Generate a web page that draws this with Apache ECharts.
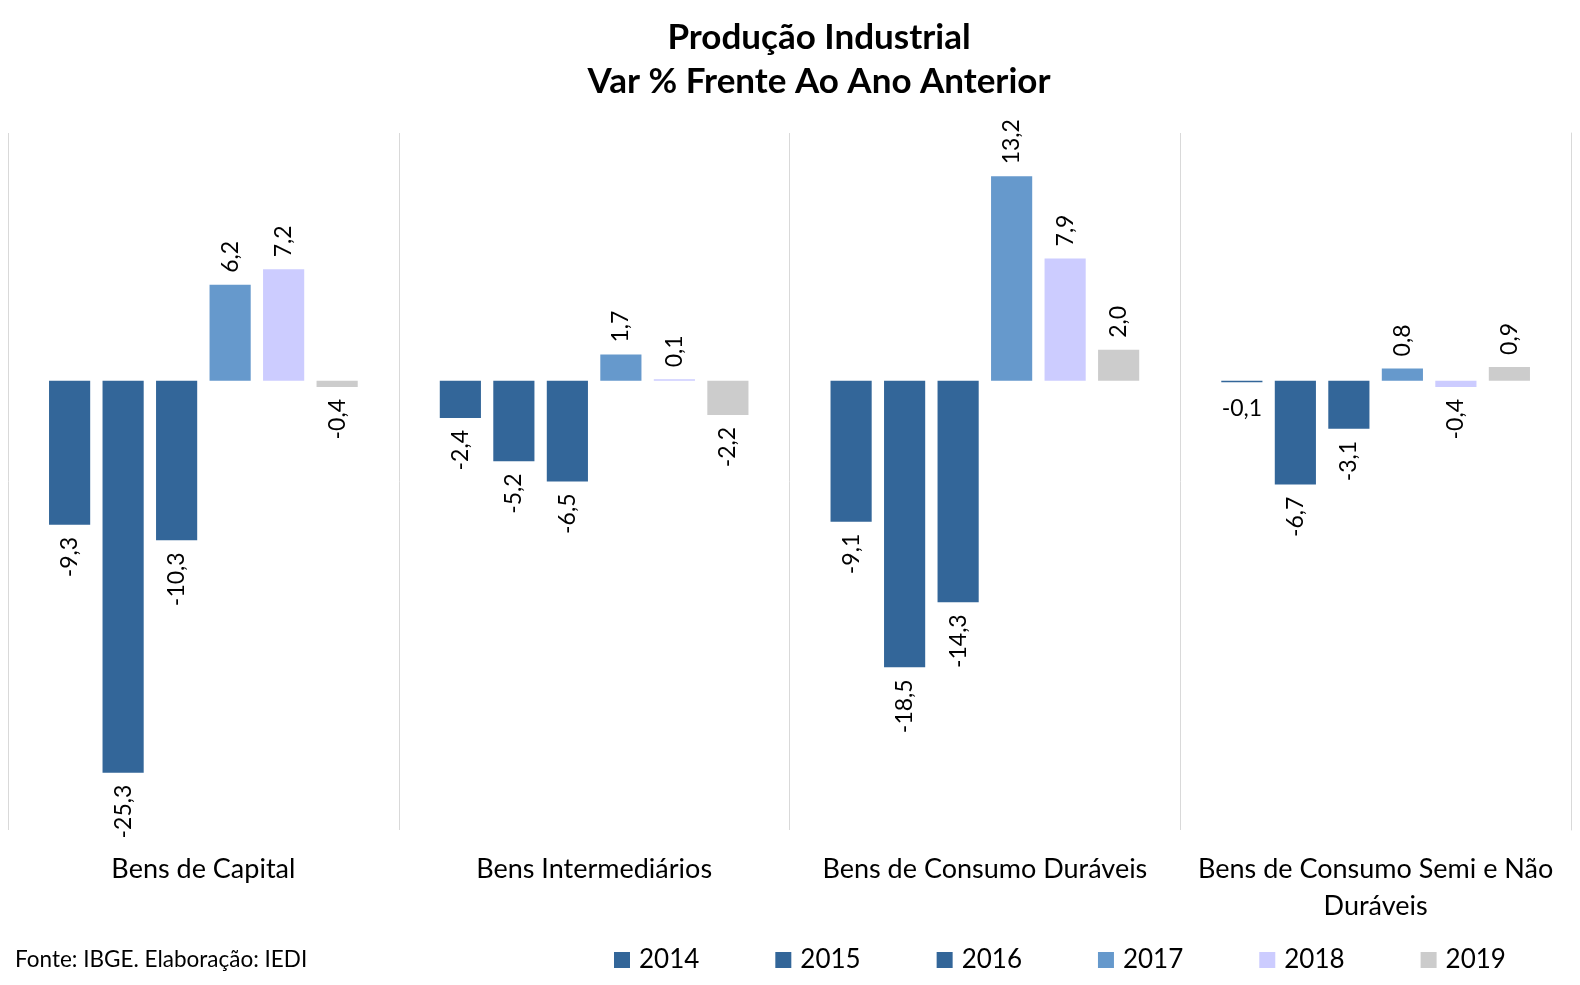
<!DOCTYPE html>
<html><head><meta charset="utf-8">
<script src="https://cdn.jsdelivr.net/npm/echarts@6/dist/echarts.min.js"></script>
<style>html,body{margin:0;padding:0;background:#fff}#c{width:1580px;height:985px}</style>
</head><body><div id="c"></div>
<script>
const categories = ['Bens de Capital', 'Bens Intermediários', 'Bens de Consumo Duráveis', 'Bens de Consumo Semi e Não\nDuráveis'];
const years = ['2014', '2015', '2016', '2017', '2018', '2019'];
const v2014 = [-9.3, -2.4, -9.1, -0.1];
const v2015 = [-25.3, -5.2, -18.5, -6.7];
const v2016 = [-10.3, -6.5, -14.3, -3.1];
const v2017 = [6.2, 1.7, 13.2, 0.8];
const v2018 = [7.2, 0.1, 7.9, -0.4];
const v2019 = [-0.4, -2.2, 2.0, 0.9];
const seriesValues = [v2014, v2015, v2016, v2017, v2018, v2019];
const colors = ['#336699', '#336699', '#336699', '#6699CC', '#CCCCFF', '#CCCCCC'];
const titleLines = ['Produção Industrial', 'Var % Frente Ao Ano Anterior'];
const sourceText = 'Fonte: IBGE. Elaboração: IEDI';
// labels drawn horizontally in the original: [seriesIndex, categoryIndex]
const horizontalLabels = [[0, 3]];

const FONT = 'Lato';
function fmt(v) { return v.toFixed(1).replace('.', ','); }
function isHorizontal(s, c) { return horizontalLabels.some(p => p[0] === s && p[1] === c); }
function makeItem(v, s, c) {
  let label;
  if (isHorizontal(s, c)) {
    label = { position: 'bottom', rotate: 0, align: 'center', verticalAlign: 'top', distance: 15 };
  } else if (v >= 0) {
    label = { position: 'top', rotate: 90, align: 'left', verticalAlign: 'middle', distance: 12 };
  } else {
    label = { position: 'bottom', rotate: 90, align: 'right', verticalAlign: 'middle', distance: 12 };
  }
  return { value: v, label: label };
}

const chart = echarts.init(document.getElementById('c'));
const series = years.map((y, s) => ({
  name: y,
  type: 'bar',
  barGap: '30%',
  barCategoryGap: '21%',
  itemStyle: { color: colors[s] },
  label: {
    show: true,
    fontFamily: FONT,
    fontSize: 23,
    color: '#000',
    formatter: p => fmt(p.value)
  },
  data: seriesValues[s].map((v, c) => makeItem(v, s, c))
}));

chart.setOption({
  animation: false,
  backgroundColor: '#fff',
  grid: { left: 8, right: 9, top: 133, bottom: 155, containLabel: false },
  xAxis: {
    type: 'category',
    data: categories,
    axisLine: { show: false },
    axisTick: { show: false, interval: 0 },
    axisLabel: { interval: 0, fontFamily: FONT, fontSize: 27, color: '#000', margin: 21, lineHeight: 37 },
    splitLine: { show: true, interval: 0, lineStyle: { color: '#d9d9d9', width: 1 } }
  },
  yAxis: {
    type: 'value', min: -29, max: 16, position: 'right',
    axisLine: { show: true, lineStyle: { color: '#d9d9d9', width: 1 } },
    axisTick: { show: false },
    axisLabel: { show: false },
    splitLine: { show: false }
  },
  legend: {
    data: years,
    left: 609,
    top: 942,
    icon: 'rect',
    itemWidth: 16,
    itemHeight: 16,
    itemGap: 76,
    textStyle: { fontFamily: FONT, fontSize: 26, color: '#000', width: 60, padding: [0, 0, 0, 4] }
  },
  graphic: [
    { type: 'text', x: 819, y: 38, style: { text: titleLines[0], fontFamily: FONT, fontWeight: 'bold', fontSize: 35, fill: '#000', textAlign: 'center', textVerticalAlign: 'middle' } },
    { type: 'text', x: 819, y: 82, style: { text: titleLines[1], fontFamily: FONT, fontWeight: 'bold', fontSize: 35, fill: '#000', textAlign: 'center', textVerticalAlign: 'middle' } },
    { type: 'text', x: 15, y: 960, style: { text: sourceText, fontFamily: FONT, fontSize: 22.5, fill: '#000', textAlign: 'left', textVerticalAlign: 'middle' } }
  ],
  series: series
});
</script></body></html>
